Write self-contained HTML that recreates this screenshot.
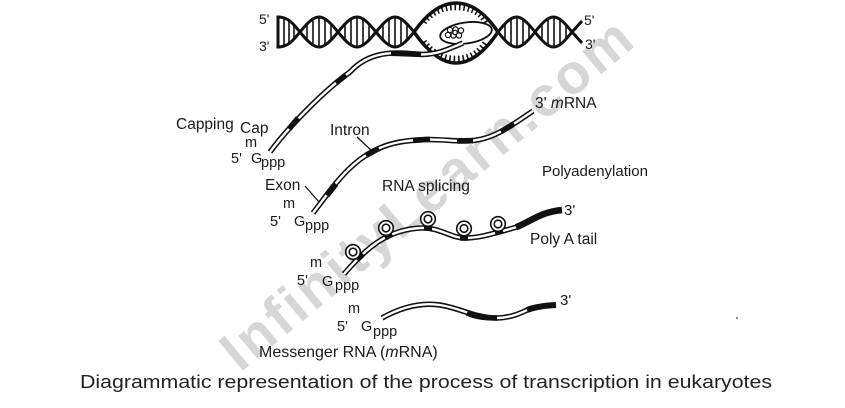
<!DOCTYPE html>
<html>
<head>
<meta charset="utf-8">
<style>
html,body{margin:0;padding:0;background:#fff;width:845px;height:408px;overflow:hidden}
svg{display:block}
text{font-family:"Liberation Sans",Arial,sans-serif;fill:#1a1a1a}
</style>
</head>
<body>
<svg width="845" height="408" viewBox="0 0 845 408" xmlns="http://www.w3.org/2000/svg">
<rect width="845" height="408" fill="#fff"/>

<!-- watermark -->
<text transform="translate(240,373) rotate(-39.6)" font-size="56" font-weight="bold" letter-spacing="3" style="fill:#d6d6d6">InfinityLearn.com</text>

<!-- DNA helix -->
<g fill="none" stroke="#111" stroke-width="3" stroke-linejoin="round">
  <path d="M278 17 C289 17 294 25 300 32 C316.1 12 321.9 12 338 32 C354.1 12 359.9 12 376 32 C392.1 12 397.9 12 414 32"/>
  <path d="M278 47 C289 47 294 39 300 32 C316.1 52 321.9 52 338 32 C354.1 52 359.9 52 376 32 C392.1 52 397.9 52 414 32"/>
  <path d="M278 15.5 V48.5"/>
  <path d="M498 32 C513.7 12 519.3 12 535 32 C550.7 12 556.3 12 572 32 L582 21"/>
  <path d="M498 32 C513.7 52 519.3 52 535 32 C550.7 52 556.3 52 572 32 L582 43"/>
  <path stroke-width="3.5" d="M414 32 C428 12 442 3 456 3 C472 3 486 14 498 32"/>
  <path stroke-width="3.5" d="M414 32 C428 52 442 63 456 63 C472 63 486 50 498 32"/>
</g>
<!-- rungs -->
<path fill="none" stroke="#111" stroke-width="1.6" d="
M284 17.5V46.5 M289 20.2V43.8 M294 24.8V39.2
M307 23.8V40.2 M313 18.8V45.2 M319 17V47 M325 18.8V45.2 M331 23.8V40.2
M345 23.8V40.2 M351 18.8V45.2 M357 17V47 M363 18.8V45.2 M369 23.8V40.2
M383 23.8V40.2 M389 18.8V45.2 M395 17V47 M401 18.8V45.2 M407 23.8V40.2
M505 23.8V40.2 M511 18.8V45.2 M517 17V47 M523 18.8V45.2 M529 23.8V40.2
M542 23.8V40.2 M548 18.8V45.2 M554 17V47 M560 18.8V45.2 M566 23.8V40.2"/>
<!-- bubble ticks -->
<path fill="none" stroke="#111" stroke-width="5.5" stroke-dasharray="1.6 2.8" d="M424 22.5 C432 12 443 7.5 456 7.5 C470 7.5 480 12 486 23"/>
<path fill="none" stroke="#111" stroke-width="5.5" stroke-dasharray="1.6 2.8" d="M424 41.5 C432 52 443 58.5 456 58.5 C470 58.5 480 52 486 41"/>
<!-- polymerase -->
<ellipse cx="466" cy="33" rx="26" ry="10.5" transform="rotate(-8 466 33)" fill="#fff" stroke="#111" stroke-width="1.8"/>
<g fill="#fff" stroke="#111" stroke-width="1.2">
  <circle cx="450" cy="30" r="2.6"/>
  <circle cx="455.5" cy="29.5" r="2.6"/>
  <circle cx="461" cy="30.5" r="2.6"/>
  <circle cx="448" cy="35" r="2.6"/>
  <circle cx="453.5" cy="35.5" r="2.6"/>
  <circle cx="459" cy="35.5" r="2.6"/>
  <circle cx="455" cy="32.5" r="2.2"/>
</g>

<!-- RNA strands: black outer, white inner -->
<g fill="none" stroke-linecap="butt">
  <g stroke="#111" stroke-width="5.5">
    <path id="s1" d="M463 43 C448 49 440 54 422 54.5 C400 53 372 48 350 72 C325 90 290 125 270 152"/>
    <path d="M313 213 C335 185 355 150 400 142 C430 137 445 141 465 141 C490 141 505 130 533 111"/>
    <path d="M344 274 C365 250 385 230 420 228 C440 227 450 238 465 238 C480 238 495 233 517 227"/>
    <path d="M382 318 C400 308 420 302 440 305 C460 308 475 318 497 318 C515 318 530 308 532 308"/>
  </g>
  <g stroke="#fff" stroke-width="2.4">
    <path d="M463 43 C448 49 440 54 422 54.5 C400 53 372 48 350 72 C325 90 290 125 270 152"/>
    <path d="M313 213 C335 185 355 150 400 142 C430 137 445 141 465 141 C490 141 505 130 533 111"/>
    <path d="M344 274 C365 250 385 230 420 228 C440 227 450 238 465 238 C480 238 495 233 517 227"/>
    <path d="M382 318 C400 308 420 302 440 305 C460 308 475 318 497 318 C515 318 530 308 532 308"/>
  </g>
  <!-- black segments -->
  <g stroke="#111" stroke-width="5.5">
    <path d="M391 53.3 L421 54.4"/>
    <path d="M336 83 L346 75"/>
    <path d="M289 129 L298 118"/>

    <path d="M327 195.5 L336 184"/>
    <path d="M366 155.5 L379 148.5"/>
    <path d="M413 140.5 L430 139.3"/>
    <path d="M457 141 L473 140.5"/>
    <path d="M501 131.7 L514 123.6"/>

    <path d="M357 260 L363 254"/>
    <path d="M385 238 L392 234"/>
    <path d="M424 228 L432 227.7"/>
    <path d="M460 238 L468 238"/>
    <path d="M495 233 L503 231"/>

    <path d="M467 313 C477 317.5 487 318 497 318"/>
  </g>
  <!-- tails -->
  <path stroke="#111" stroke-width="6.5" d="M516 227.3 C530 222 540 212 562 210"/>
  <path stroke="#111" stroke-width="6" d="M527 310 C535 307 545 305.5 556 305"/>
</g>

<!-- circles on strand 3 -->
<g fill="#fff" stroke="#111" stroke-width="1.6">
  <circle cx="353" cy="252" r="7.3"/><circle cx="353" cy="252" r="3.8"/>
  <circle cx="386" cy="228" r="7.3"/><circle cx="386" cy="228" r="3.8"/>
  <circle cx="428" cy="219" r="7.3"/><circle cx="428" cy="219" r="3.8"/>
  <circle cx="464" cy="228.5" r="7.3"/><circle cx="464" cy="228.5" r="3.8"/>
  <circle cx="498" cy="224" r="7.3"/><circle cx="498" cy="224" r="3.8"/>
</g>

<!-- pointer lines -->
<g stroke="#111" stroke-width="1.2" fill="none">
  <path d="M305 186 L319 202"/>
  <path d="M357 137 L373 152"/>
</g>

<!-- DNA labels -->
<text x="259" y="24" font-size="14">5'</text>
<text x="259" y="51" font-size="14">3'</text>
<text x="584" y="25" font-size="14">5'</text>
<text x="585" y="49" font-size="14">3'</text>

<!-- strand 1 labels -->
<text x="176" y="129" font-size="15.5">Capping</text>
<text x="240" y="133" font-size="15.5">Cap</text>
<text x="245" y="147" font-size="14.5">m</text>
<text x="231" y="163" font-size="14.5">5'</text>
<text x="251" y="163" font-size="14.5">G</text>
<text x="261" y="167" font-size="14.5">ppp</text>

<!-- strand 2 labels -->
<text x="330" y="135" font-size="15.5">Intron</text>
<text x="535" y="108" font-size="15.5">3' <tspan font-style="italic">m</tspan>RNA</text>
<text x="265" y="190" font-size="15.5">Exon</text>
<text x="283" y="208" font-size="14.5">m</text>
<text x="270" y="226" font-size="14.5">5'</text>
<text x="294" y="226" font-size="14.5">G</text>
<text x="305" y="230" font-size="14.5">ppp</text>
<text x="382" y="191" font-size="15.5">RNA splicing</text>
<text x="542" y="176" font-size="15">Polyadenylation</text>

<!-- strand 3 labels -->
<text x="564" y="215" font-size="15">3'</text>
<text x="530" y="244" font-size="15.5">Poly A tail</text>
<text x="310" y="267" font-size="14.5">m</text>
<text x="297" y="285" font-size="14.5">5'</text>
<text x="322" y="286" font-size="14.5">G</text>
<text x="335" y="290" font-size="14.5">ppp</text>

<!-- strand 4 labels -->
<text x="560" y="305" font-size="15">3'</text>
<text x="348" y="313" font-size="14.5">m</text>
<text x="337" y="331" font-size="14.5">5'</text>
<text x="361" y="331" font-size="14.5">G</text>
<text x="373" y="336" font-size="14.5">ppp</text>
<text x="259" y="357" font-size="16">Messenger RNA (<tspan font-style="italic">m</tspan>RNA)</text>

<circle cx="737" cy="318" r="0.9" fill="#444"/>

<!-- caption -->
<text x="80" y="388" font-size="18" textLength="692" lengthAdjust="spacingAndGlyphs" style="fill:#222">Diagrammatic representation of the process of transcription in eukaryotes</text>
</svg>
</body>
</html>
